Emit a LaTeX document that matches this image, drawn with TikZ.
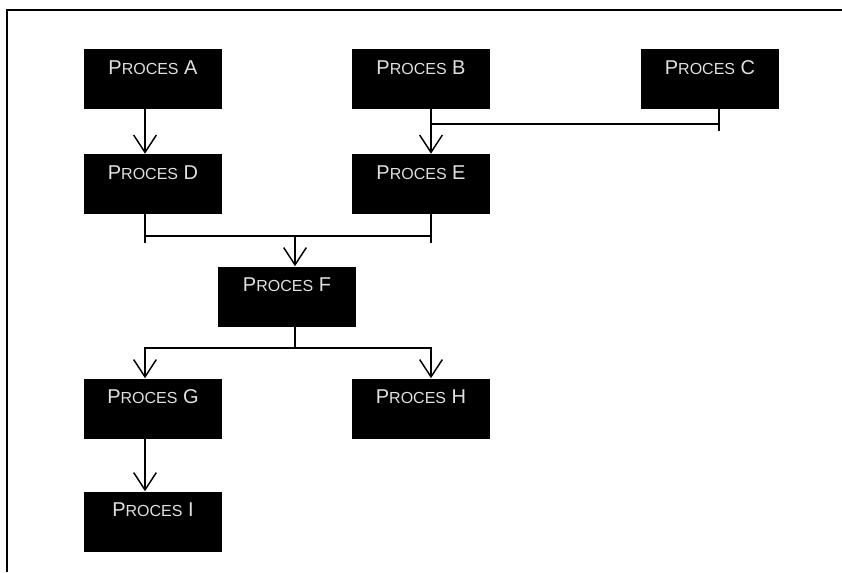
\documentclass[tikz,border=0pt]{standalone}
\usepackage{fontspec}
\setmainfont{Liberation Sans}
\usetikzlibrary{arrows.meta}
\newcommand{\proces}[1]{P{\fontsize{12}{14}\selectfont ROCES} #1}

\begin{document}
\begin{tikzpicture}[
        x=0.75pt, y=-0.75pt,
        proc/.style={rectangle, fill=black, text=white!88!black, inner sep=0pt,
            minimum width=103.5pt, minimum height=45pt,
            text height=19pt, text depth=26pt,
            font=\fontsize{15}{17}\selectfont},
        line/.style={line width=1.1pt},
        arr/.style={line, -{Straight Barb[length=13pt, width=17pt]}}
    ]
        \useasboundingbox (0,0) rectangle (842,572);
        \draw[line width=1.5pt] (7,572) -- (7,10) -- (842,10);

        % Processen
        \node[proc] (A) at (153,79) {\proces{A}};
        \node[proc] (B) at (421,79) {\proces{B}};
        \node[proc] (C) at (710,79) {\proces{C}};
        \node[proc] (D) at (153,184) {\proces{D}};
        \node[proc] (E) at (421,184) {\proces{E}};
        \node[proc] (F) at (287,296.5) {\proces{F}};
        \node[proc] (G) at (153,408.5) {\proces{G}};
        \node[proc] (H) at (421,408.5) {\proces{H}};
        \node[proc] (I) at (153,521.5) {\proces{I}};

        % A naar D
        \draw[arr] ([xshift=-6pt]A.south) -- ([xshift=-6pt]D.north);

        % B en C naar E
        \coordinate (bc) at (431,124);
        \coordinate (cc) at (719,124);
        \draw[arr] ([xshift=7.5pt]B.south) -- ([xshift=7.5pt]E.north);
        \draw[line] (bc) -- (cc);
        \draw[line] ([xshift=6.75pt]C.south) -- ++(0,22);

        % D en E naar F
        \coordinate (de) at (295,236);
        \draw[line] ([xshift=-6pt]D.south) -- ++(0,29);
        \draw[line] ([xshift=7.5pt]E.south) -- ++(0,29);
        \draw[line] ([xshift=-6pt]D.south |- de) -- ([xshift=7.5pt]E.south |- de);
        \draw[arr] (de) -- ([xshift=6pt]F.north);

        % F naar G en H
        \coordinate (fg) at (295,348);
        \draw[line] ([xshift=6pt]F.south) -- (fg);
        \draw[arr] (fg) -| ([xshift=-6pt]G.north);
        \draw[arr] (fg) -| ([xshift=7.5pt]H.north);

        % G naar I
        \draw[arr] ([xshift=-6pt]G.south) -- ([xshift=-6pt]I.north);
    \end{tikzpicture}
\end{document}
